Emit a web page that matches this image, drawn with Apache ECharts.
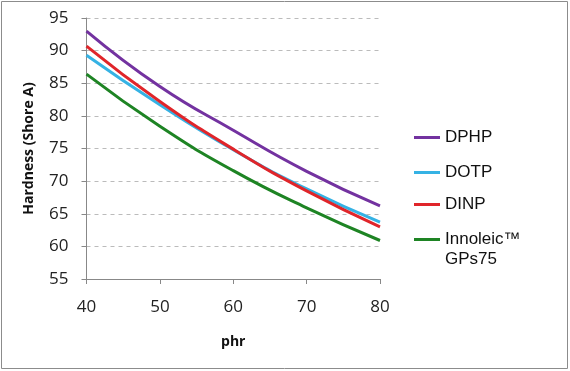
<!DOCTYPE html>
<html>
<head>
<meta charset="utf-8">
<script src="https://cdn.jsdelivr.net/npm/echarts@6/dist/echarts.min.js"></script>
<style>html,body{margin:0;padding:0;background:#fff;}#c{width:570px;height:371px;}</style>
</head>
<body>
<div id="c"></div>
<script>
const phr = [40, 50, 60, 70, 80];
const dphp = [93.0, 84.5, 77.8, 71.5, 66.2];
const dotp = [89.3, 81.7, 74.8, 68.8, 63.7];
const dinp = [90.7, 82.2, 74.9, 68.5, 63.0];
const innoleic = [86.4, 78.4, 71.6, 65.9, 60.9];
const seriesNames = ['DPHP', 'DOTP', 'DINP', 'Innoleic™'];
const colors = ['#7332A0', '#35B2E4', '#E0252A', '#1E8424'];
const yTicks = [55, 60, 65, 70, 75, 80, 85, 90, 95];

const values = [dphp, dotp, dinp, innoleic];
const chart = echarts.init(document.getElementById('c'));
const legendTops = [124, 159, 191, 226];
chart.setOption({
  animation: false,
  grid: {left: 86.5, right: 190, top: 18, bottom: 92},
  xAxis: {
    type: 'value', min: 40, max: 80, interval: 10,
    name: 'phr', nameLocation: 'middle', nameGap: 56,
    nameTextStyle: {fontFamily: 'Open Sans', fontWeight: 'bold', fontSize: 14, color: '#111'},
    axisLine: {lineStyle: {color: '#888'}},
    axisTick: {show: true, length: 5, lineStyle: {color: '#888'}},
    axisLabel: {fontFamily: 'Open Sans', fontSize: 17, color: '#222', margin: 20},
    splitLine: {show: false}
  },
  yAxis: {
    type: 'value', min: yTicks[0], max: yTicks[yTicks.length - 1], interval: 5,
    name: 'Hardness (Shore A)', nameLocation: 'middle', nameGap: 50,
    nameTextStyle: {fontFamily: 'Open Sans', fontWeight: 'bold', fontSize: 14, color: '#111'},
    axisLine: {show: true, lineStyle: {color: '#888'}},
    axisTick: {show: true, length: 5, lineStyle: {color: '#888'}},
    axisLabel: {fontFamily: 'Open Sans', fontSize: 17, color: '#222', margin: 18},
    splitLine: {show: true, lineStyle: {color: '#bbb', type: [4, 4]}}
  },
  legend: seriesNames.map((n, i) => ({
    data: [{name: n, icon: 'rect'}], left: 409, top: legendTops[i], orient: 'vertical',
    itemWidth: 26, itemHeight: 3, itemGap: 10,
    textStyle: {fontFamily: 'Liberation Sans', fontSize: 17, color: '#111'}
  })),
  graphic: [
    {type: 'rect', shape: {x: 1.5, y: 1.5, width: 566, height: 367}, style: {fill: 'none', stroke: '#8c8c8c', lineWidth: 1}, silent: true},
    {type: 'text', left: 445, top: 251, style: {text: 'GPs75', fontFamily: 'Liberation Sans', fontSize: 17, fill: '#111'}}
  ],
  series: seriesNames.map((n, i) => ({
    name: n, type: 'line', smooth: true, symbol: 'none',
    data: phr.map((x, j) => [x, values[i][j]]),
    lineStyle: {color: colors[i], width: 3},
    itemStyle: {color: colors[i]}
  }))
});
</script>
</body>
</html>
